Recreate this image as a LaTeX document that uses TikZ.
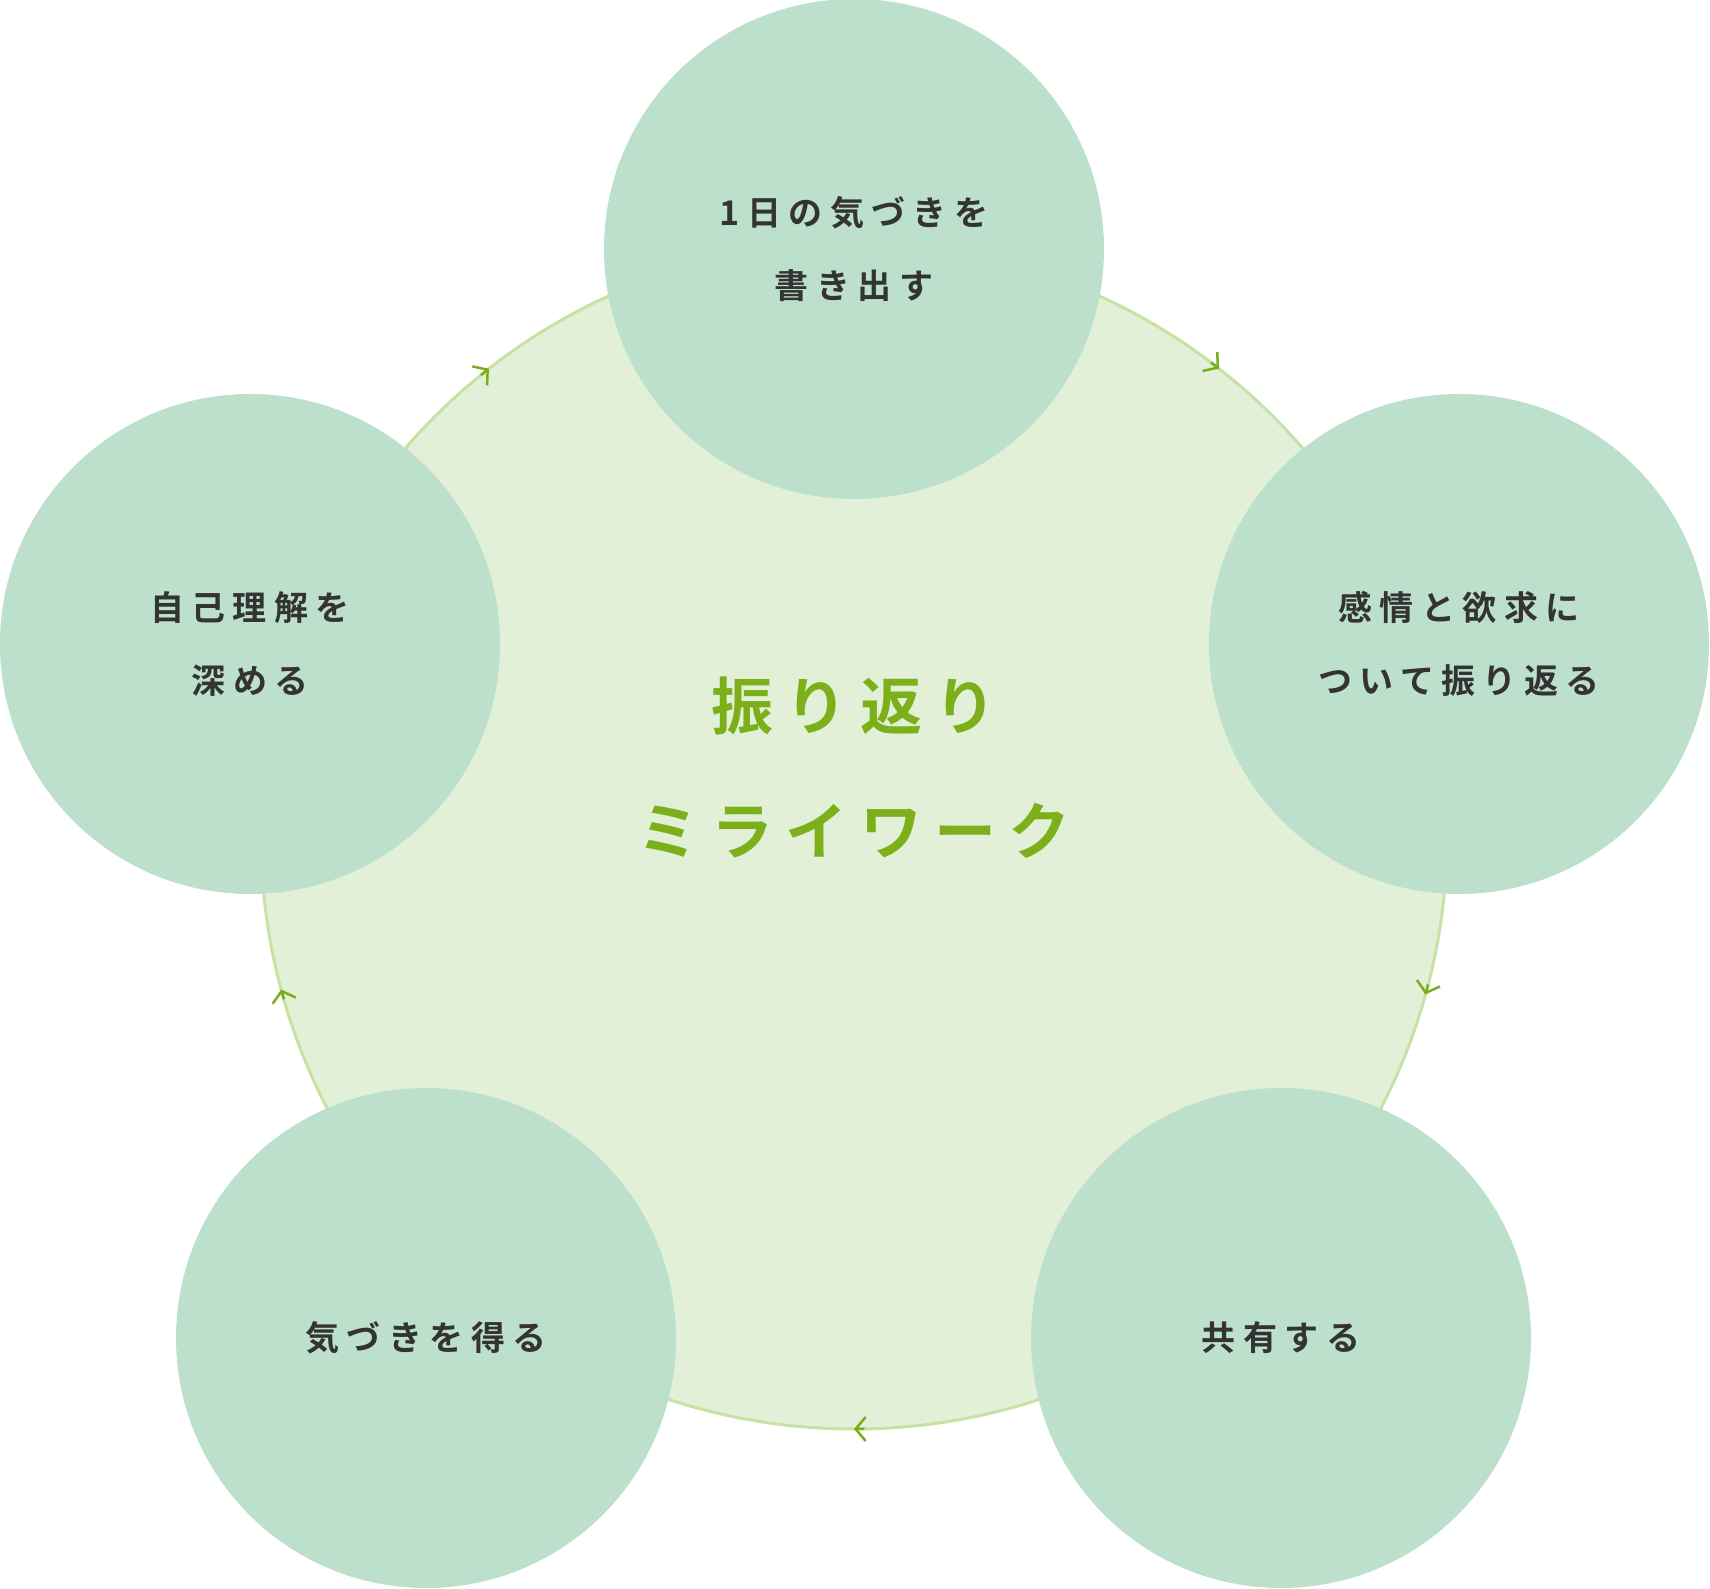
\documentclass[tikz,border=0pt]{standalone}
\usepackage{fontspec}
\usetikzlibrary{arrows.meta,calc}
\newfontfamily\jp[LetterSpace=22]{Noto Sans CJK JP Bold}
\newfontfamily\jpc[LetterSpace=20]{Noto Sans CJK JP Bold}
\definecolor{bigfill}{HTML}{E3F0D8}
\definecolor{bigline}{HTML}{C8E2A4}
\definecolor{smallfill}{HTML}{BDE0CC}
\definecolor{arr}{HTML}{7AAE1E}
\definecolor{txt}{HTML}{333333}
\definecolor{ctxt}{HTML}{7CB01A}
\begin{document}
\begin{tikzpicture}[x=1pt,y=1pt,
  small/.style={circle,fill=smallfill,minimum size=500pt,inner sep=0pt},
  lab/.style={text=txt,font=\jp\fontsize{34}{73}\selectfont,align=center},
  tip/.style={draw=arr,line width=2.5pt,-{Straight Barb[length=10pt,width=24pt]}}]
\useasboundingbox (0,0) rectangle (1710,1588);
\coordinate (C) at (854,752);
\node[circle,fill=bigfill,draw=bigline,line width=3pt,minimum size=1186pt,inner sep=0pt] (big) at (C) {};
\foreach \a in {128,52,-15.5,-90,-165}{
  \draw[tip] ($(C)+(\a+1:593)$) arc[start angle=\a+1,end angle=\a,radius=593];
}
\node[small] (n1) at (854,1339) {};
\node[small] (n2) at (1459,944) {};
\node[small] (n3) at (1281,250) {};
\node[small] (n4) at (426,250) {};
\node[small] (n5) at (250,944) {};
\node[lab] at (n1) {1日の気づきを\\書き出す};
\node[lab] at (n2) {感情と欲求に\\ついて振り返る};
\node[lab] at (n3) {共有する};
\node[lab] at (n4) {気づきを得る};
\node[lab] at (n5) {自己理解を\\深める};
\node[text=ctxt,font=\jpc\fontsize{62}{125}\selectfont,align=center] (title) at (854,820) {振り返り\\ミライワーク};
\end{tikzpicture}
\end{document}
